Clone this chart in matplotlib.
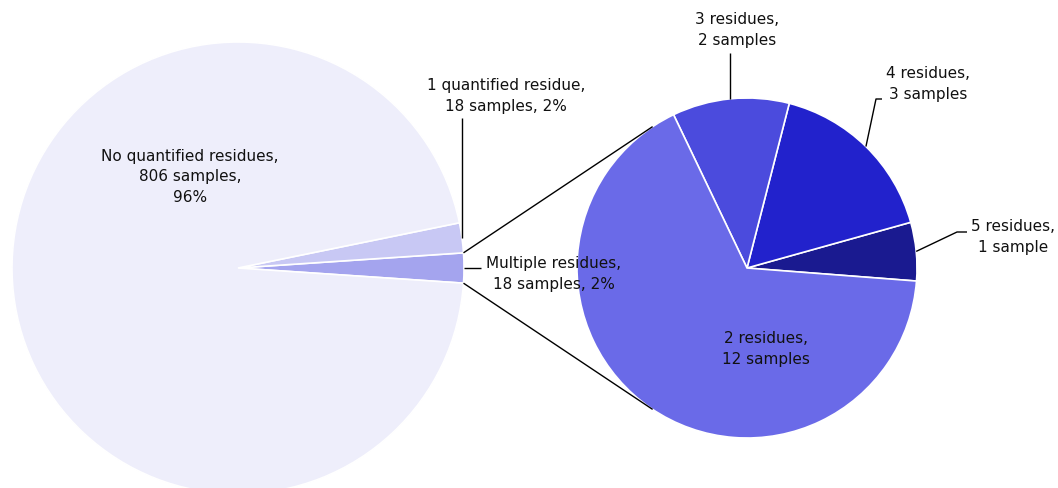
import numpy as np
import matplotlib
matplotlib.use("Agg")
import matplotlib.pyplot as plt

# data
main_labels = ["Multiple residues,\n18 samples, 2%",
               "1 quantified residue,\n18 samples, 2%",
               "No quantified residues,\n806 samples,\n96%"]
main_values = [18, 18, 806]
main_colors = ["#a4a4ee", "#c8c8f4", "#eeeefb"]

sub_labels = ["5 residues,\n1 sample", "4 residues,\n3 samples",
              "3 residues,\n2 samples", "2 residues,\n12 samples"]
sub_values = [1, 3, 2, 12]
sub_colors = ["#1a1a90", "#2222cc", "#4b4bdd", "#6a6ae8"]

W, H = 1058, 488


def P(x, y):
    # pixel coords (y down) -> data coords (y up)
    return x, H - y


fig = plt.figure(figsize=(W / 100, H / 100), dpi=100)
ax = fig.add_axes([0, 0, 1, 1])

c1, r1 = P(238, 268), 226
c2, r2 = P(747, 268), 170

a0 = 360 * main_values[0] / sum(main_values)
start1 = -a0 / 2
start2 = -4.4
wp = dict(edgecolor="white", linewidth=1.2)
ax.pie(main_values, colors=main_colors, startangle=start1, center=c1,
       radius=r1, wedgeprops=wp)
ax.pie(sub_values, colors=sub_colors, startangle=start2, center=c2,
       radius=r2, wedgeprops=wp)

ax.set_xlim(0, W)
ax.set_ylim(0, H)
ax.set_aspect("equal")
ax.axis("off")


def mid_angles(values, start):
    v = np.array(values, dtype=float)
    edges = start + 360 * np.concatenate([[0], np.cumsum(v)]) / v.sum()
    return (edges[:-1] + edges[1:]) / 2


def edge_pt(c, r, ang):
    t = np.radians(ang)
    return c[0] + r * np.cos(t), c[1] + r * np.sin(t)


# connection lines: from the "multiple" slice edges, tangent to the sub pie
for ang, side in [(a0 / 2, 1), (-a0 / 2, -1)]:
    px, py = edge_pt(c1, r1, ang)
    dx, dy = px - c2[0], py - c2[1]
    d = np.hypot(dx, dy)
    base = np.degrees(np.arctan2(dy, dx))
    off = np.degrees(np.arccos(r2 / d))
    tx, ty = edge_pt(c2, r2, base - side * off)
    ax.plot([px, tx], [py, ty], color="black", lw=1.0,
            solid_capstyle="butt", zorder=3)

tk = dict(fontsize=11, family="DejaVu Sans", ha="center", va="center",
          linespacing=1.5, color="#111111")
lk = dict(color="black", lw=1.0, solid_capstyle="butt", zorder=3)

m1 = mid_angles(main_values, start1)
m2 = mid_angles(sub_values, start2)

# main pie labels
ax.text(*P(190, 177), main_labels[2], **tk)

sx, sy = edge_pt(c1, r1, m1[1])
ax.plot([sx, sx], [sy, H - 118], **lk)
ax.text(*P(506, 96), main_labels[1], **tk)

sx, sy = edge_pt(c1, r1, m1[0])
ax.plot([sx, 481], [sy, sy], **lk)
ax.text(*P(554, 274), main_labels[0], **tk)

# sub pie labels
ax.text(*P(766, 349), sub_labels[3], **tk)

sx, sy = edge_pt(c2, r2, m2[2])
ax.plot([sx, sx], [sy, H - 53], **lk)
ax.text(*P(737, 30), sub_labels[2], **tk)

sx, sy = edge_pt(c2, r2, m2[1])
ax.plot([sx, 876, 882], [sy, H - 99, H - 99], **lk)
ax.text(*P(928, 84), sub_labels[1], **tk)

sx, sy = edge_pt(c2, r2, m2[0])
ax.plot([sx, 957, 967], [sy, H - 232, H - 232], **lk)
ax.text(*P(1013, 237), sub_labels[0], **tk)

fig.savefig("out.png", dpi=100)
